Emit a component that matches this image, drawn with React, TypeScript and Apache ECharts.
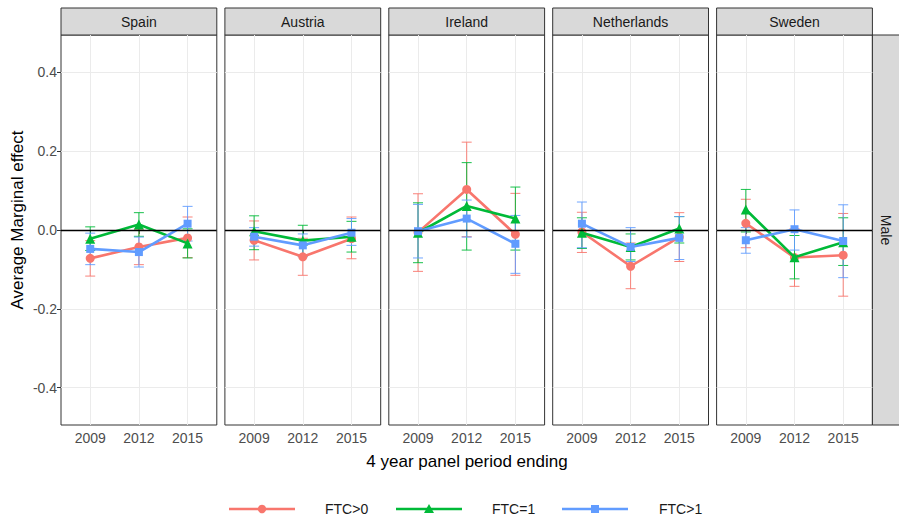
import React, { useEffect, useRef } from 'react';
import * as echarts from 'echarts';

// Facets and x categories
const countries = ['Spain', 'Austria', 'Ireland', 'Netherlands', 'Sweden'];
const years = [2009, 2012, 2015];
const rowLabel = 'Male';
const yTicks = [-0.4, -0.2, 0, 0.2, 0.4];
const seriesNames = ['FTC>0', 'FTC=1', 'FTC>1'];

// Average marginal effects (rows: country, columns: year) with CI bounds
const ftcPosEst = [
  [-0.072, -0.043, -0.02],
  [-0.026, -0.068, -0.022],
  [-0.006, 0.103, -0.011],
  [-0.005, -0.092, -0.018],
  [0.017, -0.07, -0.064],
];
const ftcPosLow = [
  [-0.117, -0.088, -0.07],
  [-0.076, -0.115, -0.073],
  [-0.105, -0.017, -0.115],
  [-0.057, -0.149, -0.08],
  [-0.045, -0.143, -0.168],
];
const ftcPosHigh = [
  [-0.027, 0.002, 0.033],
  [0.023, -0.021, 0.033],
  [0.092, 0.223, 0.093],
  [0.045, -0.033, 0.044],
  [0.078, 0.003, 0.042],
];

const ftcOneEst = [
  [-0.022, 0.014, -0.034],
  [-0.003, -0.027, -0.017],
  [-0.007, 0.061, 0.029],
  [-0.007, -0.043, 0.004],
  [0.052, -0.069, -0.031],
];
const ftcOneLow = [
  [-0.052, -0.016, -0.071],
  [-0.05, -0.066, -0.056],
  [-0.083, -0.051, -0.051],
  [-0.047, -0.076, -0.033],
  [-0.005, -0.124, -0.09],
];
const ftcOneHigh = [
  [0.008, 0.044, 0.003],
  [0.036, 0.012, 0.022],
  [0.069, 0.171, 0.109],
  [0.031, -0.01, 0.034],
  [0.103, -0.014, 0.031],
];

const ftcMultiEst = [
  [-0.048, -0.056, 0.016],
  [-0.017, -0.039, -0.007],
  [-0.003, 0.029, -0.035],
  [0.016, -0.043, -0.02],
  [-0.026, 0.002, -0.028],
];
const ftcMultiLow = [
  [-0.088, -0.094, -0.028],
  [-0.041, -0.068, -0.039],
  [-0.071, -0.018, -0.11],
  [-0.045, -0.08, -0.075],
  [-0.059, -0.051, -0.121],
];
const ftcMultiHigh = [
  [-0.008, -0.018, 0.06],
  [0.006, -0.01, 0.029],
  [0.065, 0.076, 0.037],
  [0.071, 0.006, 0.034],
  [0.006, 0.051, 0.064],
];

const FONT = "'Liberation Sans', Arial, sans-serif";
const COLORS = ['#F8766D', '#00BA38', '#619CFF'];
const SYMBOLS = ['circle', 'triangle', 'rect'];
const SYMBOL_SIZES = [9, 10, 8];

// Panel geometry
const PANEL_LEFT = 61;
const PANEL_STEP = 163.9;
const PANEL_W = 155.8;
const PANEL_TOP = 35;
const PANEL_H = 390;
const STRIP_TOP = 8;

// Legend geometry (key start x, text start x)
const LEGEND_Y = 509;
const LEGEND_KEY_X = [229, 396, 562];
const LEGEND_KEY_W = 66;
const LEGEND_TEXT_X = [325, 492, 659];

function legendMarker(k: number, cx: number, cy: number, color: string): any {
  if (k === 0) {
    return { type: 'circle', shape: { cx, cy, r: 4.2 }, style: { fill: color } };
  }
  if (k === 1) {
    return {
      type: 'polygon',
      shape: { points: [[cx, cy - 5], [cx + 5, cy + 4], [cx - 5, cy + 4]] },
      style: { fill: color },
    };
  }
  return { type: 'rect', shape: { x: cx - 4, y: cy - 4, width: 8, height: 8 }, style: { fill: color } };
}

export default function App() {
  const ref = useRef<HTMLDivElement>(null);

  useEffect(() => {
    if (!ref.current) return;
    const chart = echarts.init(ref.current, undefined, { renderer: 'svg' });

    const groups = [
      { est: ftcPosEst, low: ftcPosLow, high: ftcPosHigh },
      { est: ftcOneEst, low: ftcOneLow, high: ftcOneHigh },
      { est: ftcMultiEst, low: ftcMultiLow, high: ftcMultiHigh },
    ];

    const grids: any[] = [];
    const xAxes: any[] = [];
    const yAxes: any[] = [];
    const series: any[] = [];
    const graphics: any[] = [];

    countries.forEach((country, i) => {
      const left = PANEL_LEFT + i * PANEL_STEP;
      grids.push({
        left,
        top: PANEL_TOP,
        width: PANEL_W,
        height: PANEL_H,
        show: true,
        backgroundColor: '#ffffff',
        borderColor: '#333333',
        borderWidth: 1,
        containLabel: false,
      });
      xAxes.push({
        type: 'value',
        gridIndex: i,
        min: 2007.2,
        max: 2016.8,
        axisLine: { show: false },
        axisTick: {
          show: true,
          customValues: years,
          length: 4,
          lineStyle: { color: '#333333' },
        },
        axisLabel: {
          show: true,
          customValues: years,
          fontSize: 14,
          color: '#4D4D4D',
          fontFamily: FONT,
          margin: 6,
          formatter: (v: number) => String(v),
        },
        splitLine: { show: true, lineStyle: { color: '#EBEBEB', width: 1 } },
      });
      yAxes.push({
        type: 'value',
        gridIndex: i,
        min: -0.495,
        max: 0.495,
        axisLine: { show: false },
        axisTick: {
          show: i === 0,
          customValues: yTicks,
          length: 4,
          lineStyle: { color: '#333333' },
        },
        axisLabel: {
          show: i === 0,
          customValues: yTicks,
          fontSize: 14,
          color: '#4D4D4D',
          fontFamily: FONT,
          margin: 4,
          formatter: (v: number) => v.toFixed(1),
        },
        splitLine: { show: true, lineStyle: { color: '#EBEBEB', width: 1 } },
      });

      groups.forEach((g, k) => {
        const color = COLORS[k];
        // Confidence interval whiskers
        series.push({
          type: 'custom',
          name: seriesNames[k] + ' CI',
          xAxisIndex: i,
          yAxisIndex: i,
          z: 2 + k * 0.1,
          silent: true,
          encode: { x: 0, y: [1, 2] },
          data: years.map((yr, j) => [yr, g.low[i][j], g.high[i][j]]),
          renderItem: (_params: any, api: any) => {
            const x = api.value(0);
            const lo = api.coord([x, api.value(1)]);
            const hi = api.coord([x, api.value(2)]);
            const hw = 5;
            const style = { stroke: color, lineWidth: 1, opacity: 0.9 };
            return {
              type: 'group',
              children: [
                { type: 'line', shape: { x1: lo[0], y1: lo[1], x2: hi[0], y2: hi[1] }, style },
                { type: 'line', shape: { x1: lo[0] - hw, y1: lo[1], x2: lo[0] + hw, y2: lo[1] }, style },
                { type: 'line', shape: { x1: hi[0] - hw, y1: hi[1], x2: hi[0] + hw, y2: hi[1] }, style },
              ],
            };
          },
        });
        // Estimates joined across years
        series.push({
          type: 'line',
          name: seriesNames[k],
          xAxisIndex: i,
          yAxisIndex: i,
          z: 3 + k * 0.1,
          data: years.map((yr, j) => [yr, g.est[i][j]]),
          symbol: SYMBOLS[k],
          symbolSize: SYMBOL_SIZES[k],
          showSymbol: true,
          itemStyle: { color },
          lineStyle: { color, width: 2.6 },
          emphasis: { disabled: true },
        });
      });

      // Reference line at zero
      series.push({
        type: 'line',
        name: 'zero',
        xAxisIndex: i,
        yAxisIndex: i,
        z: 5,
        data: [],
        markLine: {
          silent: true,
          symbol: 'none',
          label: { show: false },
          lineStyle: { color: '#000000', width: 1.3, type: 'solid' },
          data: [{ yAxis: 0 }],
        },
      });

      // Facet strip
      graphics.push({
        type: 'rect',
        shape: { x: left, y: STRIP_TOP, width: PANEL_W, height: PANEL_TOP - STRIP_TOP },
        style: { fill: '#D9D9D9', stroke: '#333333', lineWidth: 1 },
      });
      graphics.push({
        type: 'text',
        x: left + PANEL_W / 2,
        y: (STRIP_TOP + PANEL_TOP) / 2,
        style: {
          text: country,
          fontSize: 14,
          fontFamily: FONT,
          fill: '#1A1A1A',
          align: 'center',
          verticalAlign: 'middle',
        },
      });
    });

    const lastRight = PANEL_LEFT + 4 * PANEL_STEP + PANEL_W;
    graphics.push({
      type: 'rect',
      shape: { x: lastRight, y: PANEL_TOP, width: 899 - lastRight + 2, height: PANEL_H },
      style: { fill: '#D9D9D9', stroke: '#333333', lineWidth: 1 },
    });
    graphics.push({
      type: 'text',
      x: (lastRight + 899) / 2,
      y: PANEL_TOP + PANEL_H / 2,
      rotation: -Math.PI / 2,
      style: {
        text: rowLabel,
        fontSize: 14,
        fontFamily: FONT,
        fill: '#1A1A1A',
        align: 'center',
        verticalAlign: 'middle',
      },
    });
    // Axis titles
    graphics.push({
      type: 'text',
      x: 467,
      y: 461,
      style: {
        text: '4 year panel period ending',
        fontSize: 17,
        fontFamily: FONT,
        fill: '#000000',
        align: 'center',
        verticalAlign: 'middle',
      },
    });
    graphics.push({
      type: 'text',
      x: 17.5,
      y: 220,
      rotation: Math.PI / 2,
      style: {
        text: 'Average Marginal effect',
        fontSize: 17,
        fontFamily: FONT,
        fill: '#000000',
        align: 'center',
        verticalAlign: 'middle',
      },
    });

    // Legend: line key with marker, then label
    seriesNames.forEach((name, k) => {
      const color = COLORS[k];
      const x0 = LEGEND_KEY_X[k];
      graphics.push({
        type: 'group',
        children: [
          {
            type: 'line',
            shape: { x1: x0, y1: LEGEND_Y, x2: x0 + LEGEND_KEY_W, y2: LEGEND_Y },
            style: { stroke: color, lineWidth: 2.6 },
          },
          legendMarker(k, x0 + LEGEND_KEY_W / 2, LEGEND_Y, color),
          {
            type: 'text',
            x: LEGEND_TEXT_X[k],
            y: LEGEND_Y,
            style: {
              text: name,
              fontSize: 14,
              fontFamily: FONT,
              fill: '#1A1A1A',
              align: 'left',
              verticalAlign: 'middle',
            },
          },
        ],
      });
    });

    chart.setOption({
      animation: false,
      backgroundColor: '#ffffff',
      textStyle: { fontFamily: FONT },
      grid: grids,
      xAxis: xAxes,
      yAxis: yAxes,
      series,
      graphic: graphics,
    });

    return () => chart.dispose();
  }, []);

  return (
    <div
      ref={ref}
      style={{ position: 'fixed', left: 0, top: 0, width: 899, height: 516, background: '#fff' }}
    />
  );
}
